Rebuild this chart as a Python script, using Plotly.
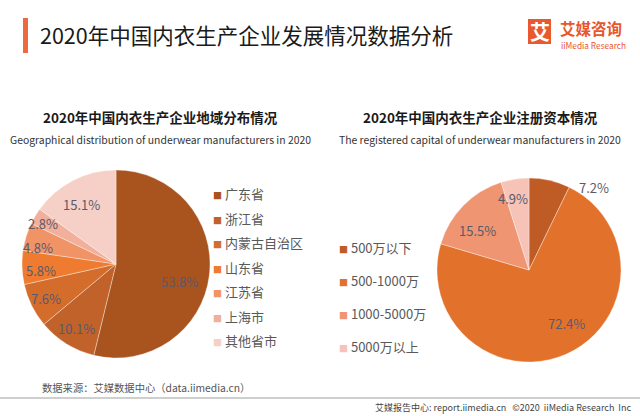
import math
import plotly.graph_objects as go

# ---- data ----
left_labels = ['广东省', '浙江省', '内蒙古自治区', '山东省', '江苏省', '上海市', '其他省市']
left_values = [53.8, 10.1, 7.6, 5.8, 4.8, 2.8, 15.1]
right_labels = ['500万以下', '500-1000万', '1000-5000万', '5000万以上']
right_values = [7.2, 72.4, 15.5, 4.9]

# ---- styles / layout ----
left_colors = ['#A9531F', '#C0622A', '#D46C2C', '#EE7B30', '#F09468', '#F2AF9C', '#F6D0C6']
right_colors = ['#BF5B24', '#E2722B', '#EF9571', '#F6C3B6']
# label placement: radial factor and angular shift (deg) relative to slice bisector
left_lab_r = [0.70, 0.80, 0.835, 0.80, 0.85, 0.89, 0.73]
left_lab_shift = [9.0, -0.6, 0.2, -3.1, -4.7, -2.0, -3.0]
right_lab_r = [1.14, 0.71, 0.71, 0.80]
right_lab_shift = [25.4, -10.8, -6.7, -4.1]

W, H = 640, 416
FONT = 'Noto Sans CJK SC, Noto Sans, sans-serif'
LABEL_COLOR = '#595A6B'
LEGEND_COLOR = '#595959'

LEFT_PIE = dict(cx=116, cy=264, r=94)
RIGHT_PIE = dict(cx=529, cy=270, r=92)


def px_x(x):
    return x / W


def px_y(y):
    return 1 - y / H


def pie_domain(p):
    return dict(x=[px_x(p['cx'] - p['r']), px_x(p['cx'] + p['r'])],
                y=[px_y(p['cy'] + p['r']), px_y(p['cy'] - p['r'])])


def pie_label_annotations(values, pie, rfac, shift):
    total = sum(values)
    anns = []
    cum = 0.0
    for v, f, s in zip(values, rfac, shift):
        mid = (cum + v / 2) / total * 360.0 + s
        cum += v
        a = math.radians(mid)
        x = pie['cx'] + f * pie['r'] * math.sin(a)
        y = pie['cy'] - f * pie['r'] * math.cos(a)
        anns.append(dict(text=f'{v / total * 100:.1f}%', x=px_x(x), y=px_y(y), xref='paper', yref='paper',
                         xanchor='center', yanchor='middle', showarrow=False,
                         font=dict(size=13, color=LABEL_COLOR, family=FONT)))
    return anns


def legend_name(label, color):
    return f'<span style="font-size:9px;color:{color}">■</span> {label}'


fig = go.Figure()

fig.add_trace(go.Pie(
    labels=left_labels, values=left_values, sort=False, direction='clockwise', rotation=0,
    marker=dict(colors=left_colors, line=dict(color='rgba(255,255,255,0.6)', width=0.6)),
    domain=pie_domain(LEFT_PIE), textinfo='none', showlegend=False, hoverinfo='label+percent',
))
fig.add_trace(go.Pie(
    labels=right_labels, values=right_values, sort=False, direction='clockwise', rotation=0,
    marker=dict(colors=right_colors, line=dict(color='rgba(255,255,255,0.6)', width=0.6)),
    domain=pie_domain(RIGHT_PIE), textinfo='none', showlegend=False, hoverinfo='label+percent',
))

# legend entries (one group each so the vertical spacing can be set); swatch is drawn in the text
HIDDEN = 'rgba(0,0,0,0)'
for lab, col in zip(left_labels, left_colors):
    fig.add_trace(go.Scatter(x=[None], y=[None], mode='markers', name=legend_name(lab, col),
                             marker=dict(symbol='square', size=7, color=HIDDEN, line=dict(width=0, color=HIDDEN)),
                             legend='legend', legendgroup='L' + lab, showlegend=True, hoverinfo='skip'))
for lab, col in zip(right_labels, right_colors):
    fig.add_trace(go.Scatter(x=[None], y=[None], mode='markers', name=legend_name(lab, col),
                             marker=dict(symbol='square', size=7, color=HIDDEN, line=dict(width=0, color=HIDDEN)),
                             legend='legend2', legendgroup='R' + lab, showlegend=True, hoverinfo='skip'))

shapes = [
    dict(type='rect', xref='paper', yref='paper', x0=px_x(23), x1=px_x(28), y0=px_y(53), y1=px_y(18),
         fillcolor='#EE6A3A', line=dict(width=0)),
    dict(type='rect', xref='paper', yref='paper', x0=px_x(528), x1=px_x(551), y0=px_y(44), y1=px_y(19),
         fillcolor='#E9592D', line=dict(width=0)),
    dict(type='line', xref='paper', yref='paper', x0=0, x1=1, y0=px_y(398), y1=px_y(398),
         line=dict(color='#A0A0A0', width=1.2)),
]


def ann(text, x, y, size, color, xanchor='center', bold=False):
    return dict(text=f'<b>{text}</b>' if bold else text, x=px_x(x), y=px_y(y), xref='paper', yref='paper',
                xanchor=xanchor, yanchor='middle', showarrow=False,
                font=dict(size=size, color=color, family=FONT))


annotations = [
    ann('2020年中国内衣生产企业发展情况数据分析', 38, 34, 21.5, '#1A1A1A', 'left'),
    ann('艾', 539.5, 31.5, 20, 'white', bold=True),
    ann('艾媒咨询', 558, 28, 15.5, '#E8572A', 'left', bold=True),
    ann('iiMedia Research', 559, 44.5, 8.3, '#E8572A', 'left'),
    ann('2020年中国内衣生产企业地域分布情况', 160, 117, 13.5, '#1A1A1A', bold=True),
    ann('Geographical distribution of underwear manufacturers in 2020', 160, 139, 10.4, '#333333'),
    ann('2020年中国内衣生产企业注册资本情况', 480, 117, 13.5, '#1A1A1A', bold=True),
    ann('The registered capital of underwear manufacturers in 2020', 480, 139, 10.4, '#333333'),
    ann('数据来源：艾媒数据中心（data.iimedia.cn）', 40, 387, 10.3, '#555555', 'left'),
    ann('艾媒报告中心: report.iimedia.cn   ©2020  iiMedia Research  Inc', 633, 407, 9, '#444444', 'right'),
]
annotations += pie_label_annotations(left_values, LEFT_PIE, left_lab_r, left_lab_shift)
annotations += pie_label_annotations(right_values, RIGHT_PIE, right_lab_r, right_lab_shift)

fig.update_layout(
    width=W, height=H, margin=dict(l=0, r=0, t=0, b=0),
    paper_bgcolor='white', plot_bgcolor='white',
    font=dict(family=FONT),
    xaxis=dict(visible=False), yaxis=dict(visible=False),
    shapes=shapes, annotations=annotations,
    legend=dict(x=px_x(173), y=px_y(179), xanchor='left', yanchor='top', tracegroupgap=4.6,
                font=dict(size=13, color=LEGEND_COLOR, family=FONT), bgcolor='rgba(0,0,0,0)', itemwidth=30),
    legend2=dict(x=px_x(299), y=px_y(233), xanchor='left', yanchor='top', tracegroupgap=13.1,
                 font=dict(size=13, color=LEGEND_COLOR, family=FONT), bgcolor='rgba(0,0,0,0)', itemwidth=30),
)

fig.write_html('out.html', config={'displayModeBar': False},
               post_script="document.body.style.margin='0';")
